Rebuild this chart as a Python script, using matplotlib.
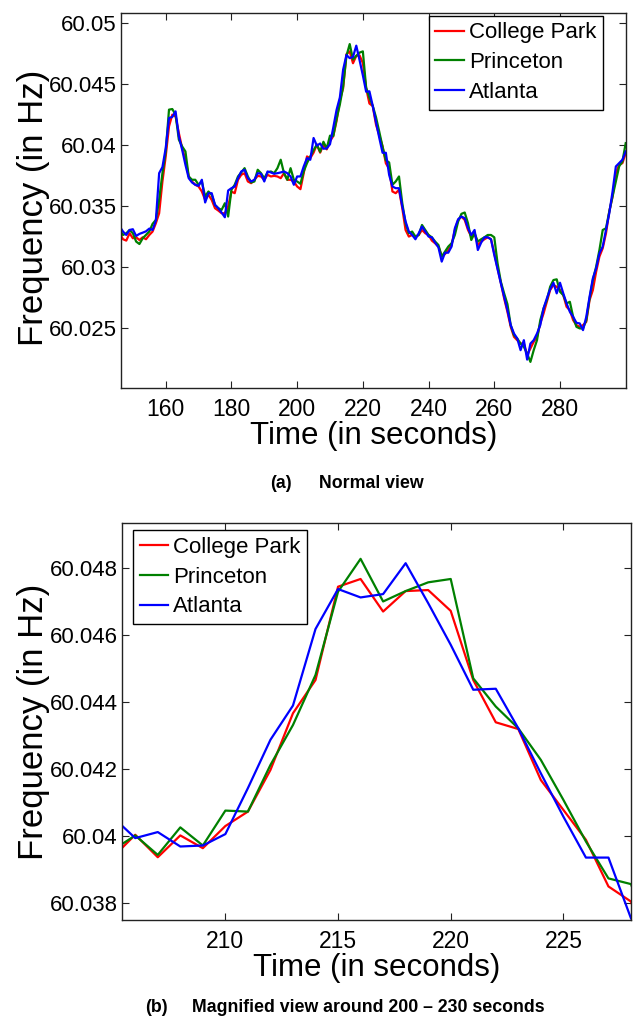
"""
Grid frequency at three sites (College Park, Princeton, Atlanta)
(a) normal view, (b) magnified view around 200-230 s
"""

import matplotlib
matplotlib.use("Agg")
import matplotlib.pyplot as plt
from matplotlib.ticker import FuncFormatter

plt.rcParams["font.family"] = ["Liberation Sans", "DejaVu Sans"]

# ---------------------------------------------------------------------------
# data: 1 s samples, 146 s .. 300 s
# ---------------------------------------------------------------------------
seconds = list(range(146, 301))

college_park = [
    60.03277, 60.03228, 60.03217, 60.03277, 60.03236, 60.03244, 60.03222, 60.03244, 60.03228, 60.03263,
    60.03291, 60.03359, 60.03441, 60.03701, 60.03906, 60.04152, 60.04248, 60.04234, 60.04097, 60.03974,
    60.03879, 60.03742, 60.03701, 60.03674, 60.03660, 60.03619, 60.03550, 60.03592, 60.03550, 60.03482,
    60.03463, 60.03441, 60.03441, 60.03496, 60.03619, 60.03605, 60.03715, 60.03756, 60.03769, 60.03701,
    60.03687, 60.03715, 60.03747, 60.03742, 60.03715, 60.03756, 60.03742, 60.03747, 60.03742, 60.03728,
    60.03769, 60.03715, 60.03715, 60.03701, 60.03660, 60.03638, 60.03769, 60.03906, 60.03892, 60.03937,
    60.04004, 60.03937, 60.04002, 60.03964, 60.04030, 60.04073, 60.04197, 60.04366, 60.04465, 60.04743,
    60.04766, 60.04669, 60.04730, 60.04733, 60.04671, 60.04465, 60.04339, 60.04319, 60.04167, 60.04078,
    60.03989, 60.03850, 60.03805, 60.03619, 60.03605, 60.03633, 60.03482, 60.03304, 60.03250, 60.03263,
    60.03250, 60.03263, 60.03304, 60.03277, 60.03263, 60.03217, 60.03195, 60.03168, 60.03091, 60.03107,
    60.03140, 60.03181, 60.03304, 60.03386, 60.03414, 60.03386, 60.03304, 60.03250, 60.03277, 60.03181,
    60.03209, 60.03228, 60.03244, 60.03228, 60.03113, 60.02990, 60.02872, 60.02744, 60.02634, 60.02511,
    60.02429, 60.02402, 60.02374, 60.02374, 60.02279, 60.02333, 60.02388, 60.02429, 60.02539, 60.02621,
    60.02716, 60.02812, 60.02853, 60.02839, 60.02812, 60.02771, 60.02675, 60.02648, 60.02566, 60.02525,
    60.02511, 60.02525, 60.02552, 60.02730, 60.02812, 60.02962, 60.03086, 60.03154, 60.03277, 60.03455,
    60.03578, 60.03769, 60.03838, 60.03851, 60.03933,
]

princeton = [
    60.03304, 60.03263, 60.03277, 60.03304, 60.03277, 60.03209, 60.03189, 60.03236, 60.03263, 60.03291,
    60.03354, 60.03386, 60.03550, 60.03769, 60.03947, 60.04289, 60.04294, 60.04248, 60.04043, 60.03988,
    60.03947, 60.03742, 60.03715, 60.03715, 60.03674, 60.03701, 60.03578, 60.03619, 60.03592, 60.03509,
    60.03482, 60.03468, 60.03523, 60.03414, 60.03633, 60.03674, 60.03742, 60.03775, 60.03810, 60.03742,
    60.03693, 60.03701, 60.03797, 60.03769, 60.03728, 60.03775, 60.03783, 60.03769, 60.03810, 60.03879,
    60.03769, 60.03715, 60.03810, 60.03715, 60.03701, 60.03682, 60.03783, 60.03851, 60.03906, 60.03958,
    60.04002, 60.03944, 60.04026, 60.03972, 60.04076, 60.04073, 60.04212, 60.04331, 60.04480, 60.04728,
    60.04826, 60.04699, 60.04730, 60.04756, 60.04766, 60.04470, 60.04386, 60.04321, 60.04227, 60.04108,
    60.03984, 60.03874, 60.03857, 60.03674, 60.03701, 60.03742, 60.03523, 60.03359, 60.03277, 60.03291,
    60.03250, 60.03263, 60.03345, 60.03304, 60.03263, 60.03244, 60.03209, 60.03181, 60.03086, 60.03127,
    60.03168, 60.03195, 60.03263, 60.03373, 60.03436, 60.03447, 60.03359, 60.03222, 60.03277, 60.03209,
    60.03228, 60.03244, 60.03263, 60.03263, 60.03244, 60.03031, 60.02880, 60.02785, 60.02697, 60.02525,
    60.02443, 60.02415, 60.02374, 60.02347, 60.02292, 60.02224, 60.02320, 60.02402, 60.02566, 60.02662,
    60.02730, 60.02839, 60.02894, 60.02900, 60.02798, 60.02771, 60.02703, 60.02716, 60.02593, 60.02511,
    60.02498, 60.02498, 60.02566, 60.02744, 60.02894, 60.03003, 60.03140, 60.03304, 60.03318, 60.03455,
    60.03578, 60.03701, 60.03824, 60.03865, 60.04015,
]

atlanta = [
    60.03332, 60.03291, 60.03263, 60.03304, 60.03310, 60.03255, 60.03272, 60.03282, 60.03293, 60.03315,
    60.03304, 60.03381, 60.03769, 60.03819, 60.03974, 60.04221, 60.04229, 60.04275, 60.04070, 60.03961,
    60.03838, 60.03728, 60.03693, 60.03674, 60.03665, 60.03715, 60.03529, 60.03605, 60.03605, 60.03509,
    60.03482, 60.03447, 60.03408, 60.03627, 60.03646, 60.03660, 60.03728, 60.03783, 60.03797, 60.03728,
    60.03701, 60.03715, 60.03769, 60.03764, 60.03701, 60.03783, 60.03775, 60.03764, 60.03769, 60.03775,
    60.03783, 60.03769, 60.03742, 60.03674, 60.03742, 60.03742, 60.03824, 60.03892, 60.03879, 60.04057,
    60.03994, 60.04012, 60.03969, 60.03972, 60.04006, 60.04143, 60.04287, 60.04389, 60.04617, 60.04736,
    60.04711, 60.04721, 60.04813, 60.04694, 60.04570, 60.04436, 60.04439, 60.04321, 60.04187, 60.04058,
    60.03936, 60.03936, 60.03755, 60.03660, 60.03646, 60.03646, 60.03496, 60.03373, 60.03291, 60.03263,
    60.03228, 60.03277, 60.03332, 60.03291, 60.03250, 60.03244, 60.03200, 60.03162, 60.03045, 60.03118,
    60.03118, 60.03168, 60.03318, 60.03392, 60.03414, 60.03400, 60.03318, 60.03263, 60.03304, 60.03140,
    60.03200, 60.03244, 60.03244, 60.03228, 60.03099, 60.02982, 60.02867, 60.02757, 60.02648, 60.02525,
    60.02456, 60.02415, 60.02320, 60.02402, 60.02243, 60.02374, 60.02402, 60.02456, 60.02525, 60.02662,
    60.02744, 60.02818, 60.02872, 60.02785, 60.02872, 60.02785, 60.02703, 60.02634, 60.02593, 60.02544,
    60.02539, 60.02484, 60.02593, 60.02757, 60.02908, 60.02990, 60.03113, 60.03168, 60.03304, 60.03441,
    60.03619, 60.03824, 60.03851, 60.03879, 60.03947,
]

sites = ["College Park", "Princeton", "Atlanta"]
colors = ["#ff0000", "#008000", "#0000ff"]

# axis setup of the two panels
xticks_a = [160, 180, 200, 220, 240, 260, 280]
yticks_a = [60.025, 60.03, 60.035, 60.04, 60.045, 60.05]
xticks_b = [210, 215, 220, 225]
yticks_b = [60.038, 60.04, 60.042, 60.044, 60.046, 60.048]


def style_axes(ax, xticks, yticks, xlim, ylim):
    ax.set_xlim(*xlim)
    ax.set_ylim(*ylim)
    ax.set_xticks(xticks)
    ax.set_yticks(yticks)
    ax.yaxis.set_major_formatter(FuncFormatter(lambda v, p: "%g" % v))
    ax.tick_params(direction="in", length=5, width=0.8, top=True, right=True,
                   colors="#222222")
    ax.tick_params(axis="x", pad=7, labelsize=16.5, labelcolor="black")
    ax.tick_params(axis="y", pad=3, labelsize=16, labelcolor="black")
    for sp in ax.spines.values():
        sp.set_linewidth(1.0)
        sp.set_color("#222222")
    ax.set_xlabel("Time (in seconds)", fontsize=22.5, labelpad=0)
    ax.set_ylabel("Frequency (in Hz)", fontsize=25)


def add_legend(ax, loc, anchor):
    leg = ax.legend(loc=loc, bbox_to_anchor=anchor, fontsize=16,
                    handlelength=1.3, handletextpad=0.2, labelspacing=0.4,
                    borderpad=0.3, borderaxespad=0, fancybox=False, framealpha=1)
    leg.get_frame().set_edgecolor("black")
    leg.get_frame().set_linewidth(1.0)


fig = plt.figure(figsize=(6.33, 10.26), dpi=100)

# ---------------------------------------------------------------------------
# (a) normal view
# ---------------------------------------------------------------------------
ax1 = fig.add_axes([0.1912, 0.6218, 0.7978, 0.3655])
for series, name, c in zip([college_park, princeton, atlanta], sites, colors):
    ax1.plot(seconds, series, color=c, lw=1.6, label=name)
style_axes(ax1, xticks_a, yticks_a, (146.4, 300.1), (60.0201, 60.0508))
ax1.yaxis.set_label_coords(-0.140, 0.48)
add_legend(ax1, "upper right", (0.954, 0.993))

# ---------------------------------------------------------------------------
# (b) magnified view
# ---------------------------------------------------------------------------
ax2 = fig.add_axes([0.1923, 0.1033, 0.8045, 0.3867])
for series, name, c in zip([college_park, princeton, atlanta], sites, colors):
    ax2.plot(seconds, series, color=c, lw=1.6, label=name)
style_axes(ax2, xticks_b, yticks_b, (205.4, 228.0), (60.0375, 60.04932))
ax2.yaxis.set_label_coords(-0.141, 0.5)
add_legend(ax2, "upper left", (0.022, 0.983))

# captions
W, H = 633.0, 1026.0
fig.text(270 / W, 1 - 484 / H, "(a)", fontsize=12.8, fontweight="bold", va="center")
fig.text(319 / W, 1 - 484 / H, "Normal view", fontsize=12.8, fontweight="bold", va="center")
fig.text(145 / W, 1 - 1008 / H, "(b)", fontsize=12.8, fontweight="bold", va="center")
fig.text(192 / W, 1 - 1008 / H, "Magnified view around 200 \u2013 230 seconds",
         fontsize=12.8, fontweight="bold", va="center")

fig.savefig("out.png", dpi=100)
